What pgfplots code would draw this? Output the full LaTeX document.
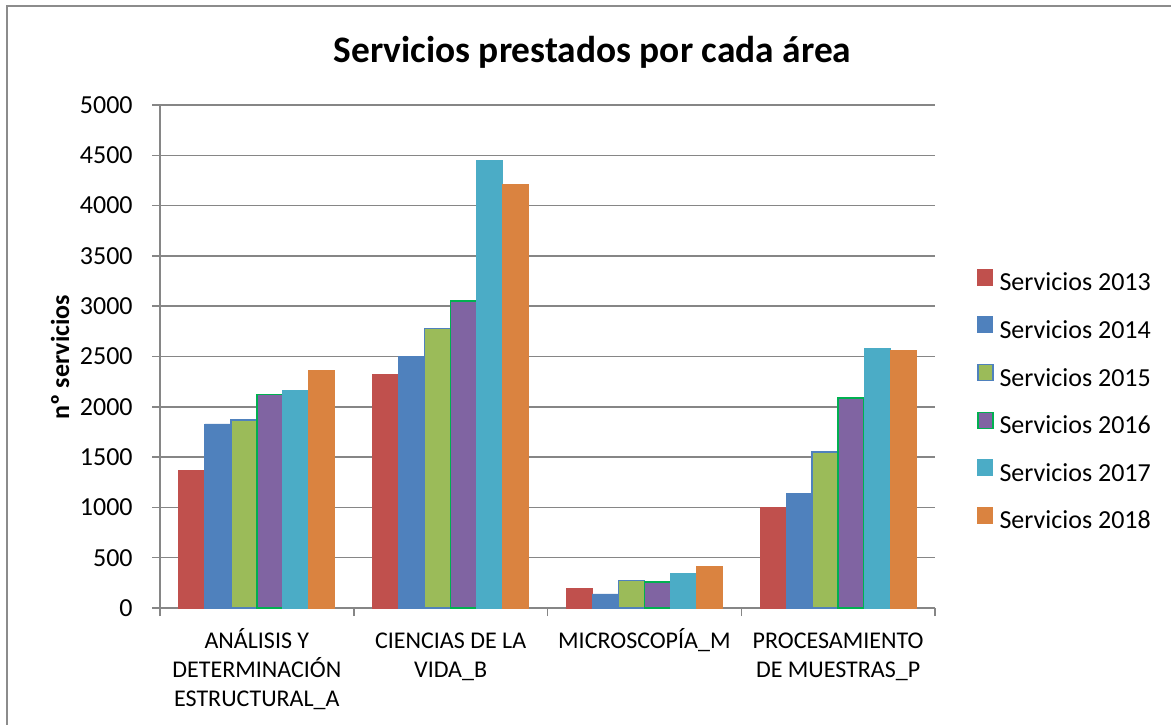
\documentclass[border=0pt]{standalone}
\usepackage{fontspec}
\setmainfont{Carlito}
\usepackage{pgfplots}
\pgfplotsset{compat=1.18}
\definecolor{cA}{HTML}{C0504D}
\definecolor{cB}{HTML}{4F81BD}
\definecolor{cC}{HTML}{9BBB59}
\definecolor{cD}{HTML}{8064A2}
\definecolor{cE}{HTML}{4BACC6}
\definecolor{cF}{HTML}{DA8340}
\definecolor{brdG}{HTML}{00B050}
\definecolor{gridgray}{HTML}{868686}
\definecolor{framegray}{HTML}{8C8C8C}
\begin{document}
\begin{tikzpicture}
\useasboundingbox (0,0) rectangle (585.5pt,362pt);
\draw[color=framegray, line width=0.75pt] (3.5pt,-5pt) -- (3.5pt,359pt) -- (600pt,359pt);
\node[font=\bfseries\fontsize{18.7}{22}\selectfont] at (296.25pt,336pt) {Servicios prestados por cada área};
\node[rotate=90,font=\bfseries\fontsize{13}{15}\selectfont] at (30pt,183.5pt) {nº servicios};
\begin{axis}[
  at={(80pt,58pt)}, anchor=south west,
  scale only axis, width=387.5pt, height=251.5pt,
  ybar=0pt, bar width=13pt,
  xmin=-0.5, xmax=3.5, ymin=0, ymax=5000,
  xtick={-0.5,0.5,1.5,2.5,3.5}, xticklabels={},
  extra x ticks={0,1,2,3},
  extra x tick labels={{\strut ANÁLISIS Y\\DETERMINACIÓN\\ESTRUCTURAL\_A},{\strut CIENCIAS DE LA\\VIDA\_B},{\strut MICROSCOPÍA\_M},{\strut PROCESAMIENTO\\DE MUESTRAS\_P}},
  extra x tick style={major tick length=0pt},
  xticklabel style={align=center, anchor=north, inner sep=0pt, yshift=-9.7pt, font=\fontsize{12}{14.5}\selectfont},
  ytick={0,500,...,5000},
  yticklabel style={anchor=east, inner sep=0pt, xshift=-9.5pt, font=\fontsize{13}{15}\selectfont},
  /pgf/number format/assume math mode=true,
  /pgf/number format/1000 sep={},
  tick align=outside, major tick length=4pt,
  axis x line*=bottom, axis y line*=left,
  axis line style={gridgray, line width=0.75pt, -},
  tick style={gridgray, line width=0.75pt},
  ymajorgrids, grid style={gridgray, line width=0.75pt},
  legend style={at={(1.0542,0.674)}, anchor=north west, draw=none, fill=none,
    inner sep=0pt, outer sep=0pt, row sep=9.7pt,
    font=\fontsize{13}{15}\selectfont,
    nodes={inner sep=0pt, text height=9pt, text depth=3pt},
    /tikz/every odd column/.append style={column sep=3pt}},
  legend cell align=left,
  legend image code/.code={\draw[#1] (0pt,-0.2pt) rectangle (7.5pt,7.8pt);},
]
\addplot[fill=cA, draw=cA] coordinates {(0,1370) (1,2320) (2,190) (3,1000)};
\addplot[fill=cB, draw=cB] coordinates {(0,1830) (1,2500) (2,140) (3,1140)};
\addplot[fill=cC, draw=cB, line width=0.75pt] coordinates {(0,1870) (1,2780) (2,275) (3,1550)};
\addplot[fill=cD, draw=brdG, line width=0.75pt] coordinates {(0,2120) (1,3050) (2,260) (3,2090)};
\addplot[fill=cE, draw=cE] coordinates {(0,2160) (1,4450) (2,340) (3,2580)};
\addplot[fill=cF, draw=cF] coordinates {(0,2360) (1,4210) (2,410) (3,2560)};
\legend{Servicios 2013, Servicios 2014, Servicios 2015, Servicios 2016, Servicios 2017, Servicios 2018}
\end{axis}
\end{tikzpicture}
\end{document}
